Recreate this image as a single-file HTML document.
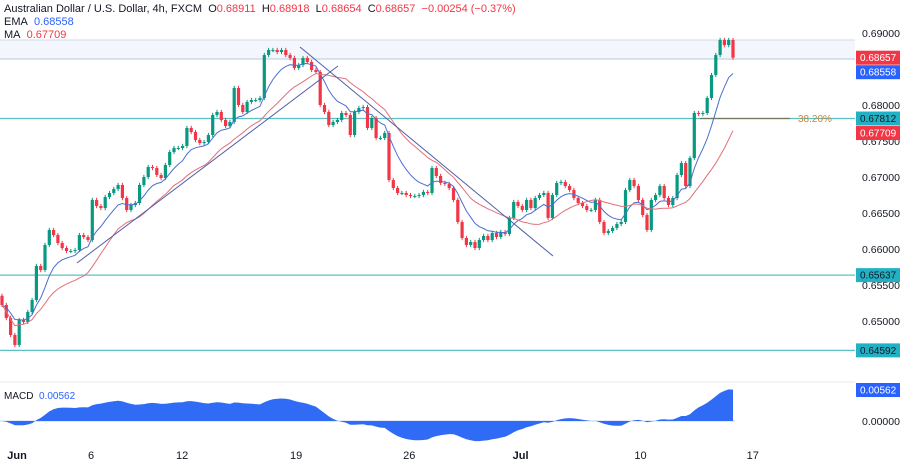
<!DOCTYPE html>
<html><head><meta charset="utf-8"><style>
html,body{margin:0;padding:0;background:#fff;}
body{width:900px;height:462px;overflow:hidden;font-family:"Liberation Sans",sans-serif;}
svg text{font-family:"Liberation Sans",sans-serif;}
</style></head><body>
<svg id="chart" width="900" height="462" viewBox="0 0 900 462">
  <rect x="0" y="40" width="855" height="19" fill="#f3f6fc"/>
  <line x1="0" y1="40" x2="855" y2="40" stroke="#d3dae8"/>
  <line x1="0" y1="59" x2="855" y2="59" stroke="#bcc6dc"/>
  <g id="hlines"></g>
  <line x1="700" y1="118.5" x2="790" y2="118.5" stroke="#6f7b5c" stroke-width="1.3"/>
  <text x="798" y="122" font-size="10" fill="#c8843a">38.20%</text>
  <g id="candles"></g>
  <g id="lines"></g>
  <line x1="77" y1="263" x2="338" y2="66" stroke="#4f5ea8" stroke-width="1"/>
  <line x1="300" y1="47" x2="553" y2="256" stroke="#4f5ea8" stroke-width="1"/>
  <g id="yaxis"></g>
  <line x1="0" y1="382" x2="855" y2="382" stroke="#e6e9ef"/>
  <g id="macd"></g>
  <g id="xaxis"></g>
  <g font-size="11">
    <text x="4" y="12" fill="#131722">Australian Dollar / U.S. Dollar, 4h, FXCM&#160;&#160;<tspan fill="#131722">O</tspan><tspan fill="#f23645">0.68911</tspan>&#160;&#160;<tspan>H</tspan><tspan fill="#f23645">0.68918</tspan>&#160;&#160;<tspan>L</tspan><tspan fill="#f23645">0.68654</tspan>&#160;&#160;<tspan>C</tspan><tspan fill="#f23645">0.68657</tspan>&#160;&#160;<tspan fill="#f23645">−0.00254 (−0.37%)</tspan></text>
    <text x="4" y="25" fill="#131722">EMA&#160;&#160;<tspan fill="#2962ff">0.68558</tspan></text>
    <text x="4" y="38" fill="#131722">MA&#160;&#160;<tspan fill="#f23645">0.67709</tspan></text>
    <text x="4" y="399" fill="#131722" font-size="10">MACD&#160;&#160;<tspan fill="#2962ff">0.00562</tspan></text>
  </g>
</svg>
<script>
const closes = [0.65222,0.65042,0.64806,0.64667,0.65014,0.64986,0.65125,0.65292,0.65764,0.65708,
0.66056,0.66264,0.66194,0.66083,0.66014,0.65972,0.65972,0.65986,0.66194,0.66167,
0.66125,0.66681,0.66597,0.66569,0.66722,0.66778,0.66833,0.66889,0.66708,0.66542,
0.66611,0.66639,0.66889,0.67000,0.67139,0.67125,0.67028,0.66986,0.67167,0.67347,
0.67403,0.67403,0.67431,0.67681,0.67625,0.67514,0.67472,0.67486,0.67583,0.67861,
0.67903,0.67792,0.67708,0.67764,0.68236,0.68000,0.67903,0.68042,0.68069,0.68069,
0.68097,0.68694,0.68764,0.68764,0.68736,0.68764,0.68694,0.68653,0.68514,0.68556,
0.68653,0.68597,0.68486,0.68458,0.68000,0.67903,0.67722,0.67764,0.67792,0.67889,
0.67861,0.67583,0.67903,0.67958,0.67972,0.67681,0.67819,0.67542,0.67542,0.67611,
0.66958,0.66847,0.66778,0.66778,0.66750,0.66736,0.66736,0.66750,0.66792,0.66778,
0.67125,0.67014,0.66917,0.66903,0.66847,0.66681,0.66375,0.66153,0.66056,0.66097,
0.66014,0.66125,0.66181,0.66125,0.66222,0.66167,0.66236,0.66208,0.66431,0.66653,
0.66597,0.66542,0.66681,0.66569,0.66708,0.66750,0.66778,0.66431,0.66750,0.66917,
0.66931,0.66875,0.66819,0.66708,0.66639,0.66597,0.66542,0.66542,0.66681,0.66375,
0.66222,0.66250,0.66292,0.66347,0.66375,0.66819,0.66958,0.66875,0.66681,0.66472,
0.66264,0.66681,0.66750,0.66875,0.66708,0.66611,0.66708,0.67028,0.67194,0.66875,
0.67264,0.67889,0.67875,0.67889,0.68097,0.68417,0.68694,0.68903,0.68833,0.68903,0.68657];
const firstOpen = 0.65350;
const priceTicks = [0.69,0.68,0.675,0.67,0.665,0.66,0.655,0.65];
const priceTickLabels = ["0.69000","0.68000","0.67500","0.67000","0.66500","0.66000","0.65500","0.65000"];
const levels = [0.67812,0.65637,0.64592];
const dateLabels = ["Jun","6","12","19","26","Jul","10","17"];
const dateIndex = [3.5,20.7,41.9,68.4,94.7,120.6,148.5,174.6];
const tagValues = [0.68657,0.68558,0.67812,0.67709,0.65637,0.64592];
const tagLabels = ["0.68657","0.68558","0.67812","0.67709","0.65637","0.64592"];
const tagKinds = ["price","ema","level","ma","level","level"];
const macdValue = 0.00562;

const NS="http://www.w3.org/2000/svg";
const yP = p => 33 + (0.69 - p) * 7200;
const xI = i => 2 + i * 4.3;
const yM = v => 421 - v * (31 / 0.00562);
function mk(tag, attrs, parent){const e=document.createElementNS(NS,tag);for(const k in attrs)e.setAttribute(k,attrs[k]);parent.appendChild(e);return e;}

const hl=document.getElementById('hlines');
levels.forEach((lv)=>{
  const l=mk('line',{x1:0,x2:855,y1:yP(lv),y2:yP(lv),stroke:'#5cc0c6','stroke-width':1.2},hl);
  
  
});

const cg=document.getElementById('candles');
closes.forEach((c,i)=>{
  const o = i===0 ? firstOpen : closes[i-1];
  const up = c>=o; const col = up ? '#089981' : '#f23645';
  const x = xI(i);
  const hi = Math.max(o,c)+0.0003, lo = Math.min(o,c)-0.0003;
  const w=mk('line',{x1:x,x2:x,y1:yP(hi),y2:yP(lo),stroke:col,'stroke-width':1},cg);
  
  
  const top=yP(Math.max(o,c)), h=Math.max(1,Math.abs(yP(o)-yP(c)));
  const b=mk('rect',{x:x-1.6,y:top,width:3.2,height:h,fill:col},cg);
  
  
});

function ema(arr,n){const k=2/(n+1);let e=arr[0];return arr.map(v=>(e=v*k+e*(1-k)));}
function sma(arr,n){return arr.map((v,i)=>{const s=arr.slice(Math.max(0,i-n+1),i+1);return s.reduce((a,b)=>a+b,0)/s.length;});}
const lg=document.getElementById('lines');
const emaV=ema(closes,9), maV=sma(closes,20);
const pe=mk('path',{d:emaV.map((v,i)=>(i?'L':'M')+xI(i).toFixed(1)+' '+yP(v).toFixed(1)).join(''),fill:'none',stroke:'#4a6fd0','stroke-width':1},lg);


const pm=mk('path',{d:maV.map((v,i)=>(i?'L':'M')+xI(i).toFixed(1)+' '+yP(v).toFixed(1)).join(''),fill:'none',stroke:'#e0707a','stroke-width':1},lg);



const ya=document.getElementById('yaxis');
priceTicks.forEach((p,i)=>{
  const t=mk('text',{x:862,y:yP(p)+4,'font-size':10.5,fill:'#131722'},ya);
  t.textContent=priceTickLabels[i];
  
  
});
const tagCol={price:'#f23645',ema:'#2962ff',level:'#22b1c4',ma:'#f23645'};
let prevY=-100;
tagValues.forEach((v,i)=>{
  let y=yP(v);
  if(y<prevY+14.5) y=prevY+14.5;
  prevY=y;
  const r=mk('rect',{x:856,y:y-7,width:44,height:14,fill:tagCol[tagKinds[i]]},ya);
  
  
  const t=mk('text',{x:860,y:y+3.5,'font-size':10,fill:tagKinds[i]==='level'?'#131722':'#fff'},ya);
  t.textContent=tagLabels[i];
  
  
});

const mg=document.getElementById('macd');
const e12=ema(closes,12), e26=ema(closes,26);
const macd=e12.map((v,i)=>v-e26[i]);
let d='M'+xI(0)+' 421';
macd.forEach((v,i)=>{d+='L'+xI(i).toFixed(1)+' '+yM(v).toFixed(1);});
d+='L'+xI(closes.length-1)+' 421Z';
const zl=mk('line',{x1:0,x2:735,y1:421,y2:421,stroke:'#c9d6f5','stroke-width':1},mg);


const ma=mk('path',{d:d,fill:'#2f6bf5'},mg);


const mr=mk('rect',{x:856,y:yM(macdValue)-7,width:44,height:14,fill:'#2962ff'},mg);


const mt=mk('text',{x:860,y:yM(macdValue)+3.5,'font-size':10,fill:'#fff'},mg);
mt.textContent='0.00562';


const mz=mk('text',{x:862,y:425,'font-size':10.5,fill:'#131722'},mg);
mz.textContent='0.00000';



const xa=document.getElementById('xaxis');
dateLabels.forEach((l,i)=>{
  const t=mk('text',{x:xI(dateIndex[i]),y:459,'font-size':11,fill:'#131722','text-anchor':'middle','font-weight':(l==='Jun'||l==='Jul')?'bold':'normal'},xa);
  t.textContent=l;
  
  
});
</script>
</body></html>
